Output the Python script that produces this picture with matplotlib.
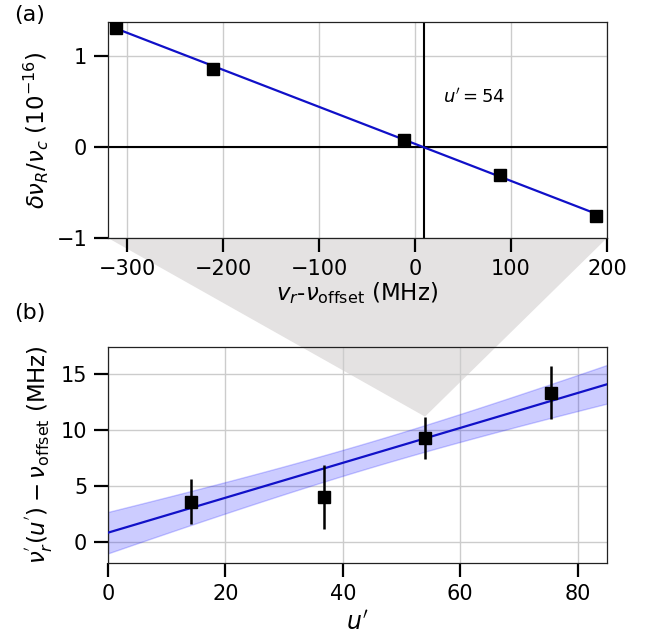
import numpy as np
import matplotlib.pyplot as plt
from matplotlib.patches import Polygon

# panel (a): shift vs detuning at u' = 54
det = [-312, -211, -12, 88, 189]
shift = [1.31, 0.86, 0.08, -0.31, -0.76]
fit_a_slope = -0.00408
fit_a_zero = 9.0

# panel (b): resonance frequency vs u'
u = [14.2, 36.8, 54.0, 75.4]
nu = [3.58, 4.02, 9.28, 13.33]
nu_err = [2.0, 2.85, 1.9, 2.35]
fit_b_icpt = 0.81
fit_b_slope = 0.156
band_s0 = 1.15    # band half-width at centre
band_ss = 0.0322  # slope uncertainty
band_uc = 45.0

W, H = 645, 635
fig = plt.figure(figsize=(W / 100, H / 100), dpi=100)
ax1 = fig.add_axes([108 / W, 1 - 238 / H, 499 / W, 216 / H])
ax2 = fig.add_axes([108 / W, 1 - 563 / H, 499 / W, 216 / H])

fs = 15
lfs = 16.5
for ax in (ax1, ax2):
    ax.grid(True, color='#cccccc', lw=1)
    ax.set_axisbelow(True)
    ax.tick_params(labelsize=fs, length=10, width=1.6, pad=5, direction='out')
    for s in ax.spines.values():
        s.set_linewidth(0.9)
        s.set_color('#222222')

# (a)
xa = np.array([det[0], det[-1]])
ax1.plot(xa, fit_a_slope * (xa - fit_a_zero), color='#1010c8', lw=1.6, zorder=3)
ax1.plot(det, shift, 's', color='black', ms=8, zorder=4)
ax1.axhline(0, color='black', lw=1.5, zorder=2)
ax1.axvline(fit_a_zero, color='black', lw=1.5, zorder=2)
ax1.text(29, 0.55, r"$u' = 54$", fontsize=13, va='center')
ax1.set_xlim(-320, 200)
ax1.set_ylim(-1, 1.38)
ax1.set_xticks([-300, -200, -100, 0, 100, 200])
ax1.set_yticks([-1, 0, 1])
ax1.set_xlabel(r"$v_r$-$\nu_{\rm offset}$ (MHz)", fontsize=lfs, labelpad=1)
ax1.set_ylabel(r"$\delta\nu_R/\nu_c$ (10$^{-16}$)", fontsize=lfs, labelpad=4)

# (b)
xb = np.linspace(0, 85, 200)
yb = fit_b_icpt + fit_b_slope * xb
hw = np.sqrt(band_s0 ** 2 + ((xb - band_uc) * band_ss) ** 2)
ax2.fill_between(xb, yb - hw, yb + hw, color='blue', alpha=0.2, lw=1, zorder=2)
ax2.plot(xb, yb, color='#1010c8', lw=1.6, zorder=3)
ax2.errorbar(u, nu, yerr=nu_err, fmt='s', color='black', ms=8, elinewidth=1.8,
             capsize=0, zorder=4)
ax2.set_xlim(0, 85)
ax2.set_ylim(-1.9, 17.4)
ax2.set_xticks([0, 20, 40, 60, 80])
ax2.set_yticks([0, 5, 10, 15])
ax2.set_xlabel(r"$u'$", fontsize=17, labelpad=5)
ax2.set_ylabel(r"$\nu_r^{'}(u^{'}) - \nu_{\rm offset}$ (MHz)", fontsize=lfs, labelpad=4)
ax2.patch.set_alpha(0)

# gray zoom wedge from (a) bottom edge to point at u'=54
apex = ax2.transData.transform((u[2], nu[2] + nu_err[2]))
apex = fig.transFigure.inverted().transform(apex)
wedge = Polygon([(108 / W, 1 - 238 / H), (607 / W, 1 - 238 / H), tuple(apex)],
                closed=True, transform=fig.transFigure, facecolor='#e4e2e2',
                edgecolor='none', zorder=-1)
fig.patches.append(wedge)

fig.text(14 / W, 1 - 15 / H, '(a)', fontsize=16, va='center')
fig.text(14 / W, 1 - 313 / H, '(b)', fontsize=16, va='center')

fig.savefig('out.png', dpi=100)
